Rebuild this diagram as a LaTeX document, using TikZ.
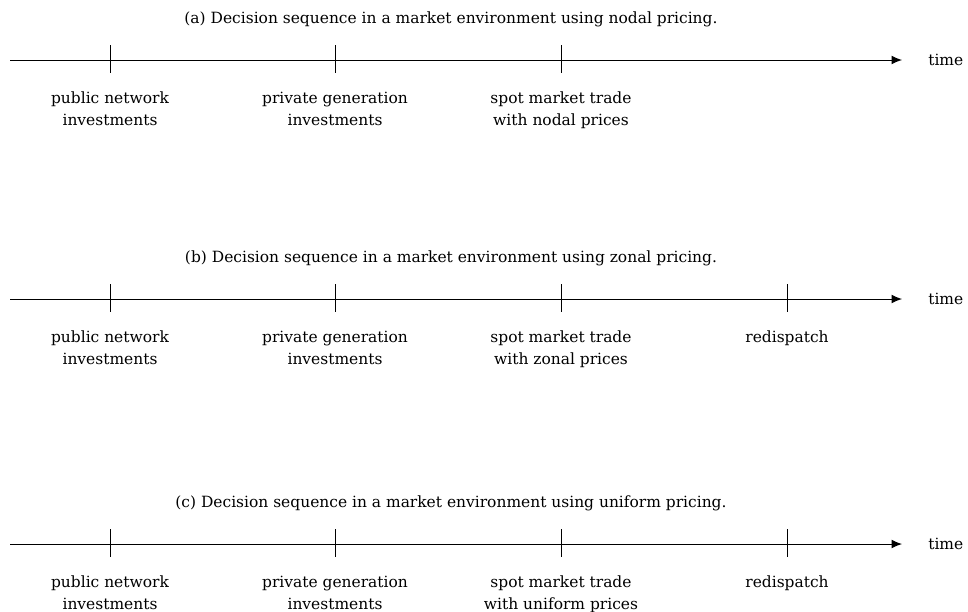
\documentclass[tikz,border=0pt]{standalone}
\usepackage{fontspec}
\setmainfont{DejaVu Serif}
\usepackage{tikz}
\usetikzlibrary{arrows.meta,positioning}
\tikzset{
  timeaxis/.style={-{Latex[length=2.6mm,width=2.2mm]}, line width=0.7pt},
  tickmark/.style={line width=0.6pt},
  caption/.style={inner sep=0pt, font=\fontsize{11}{13}\selectfont},
  eventlabel/.style={align=center, inner sep=0pt, font=\fontsize{11}{15.8}\selectfont},
  timelabel/.style={anchor=west, inner sep=0pt, font=\fontsize{11}{13}\selectfont}
}

\begin{document}
\begin{tikzpicture}[x=0.025cm, y=-0.025cm]
\useasboundingbox (0,0) rectangle (968,612);

% (a) nodal pricing
\node[caption] (capA) at (451,19) {(a) Decision sequence in a market environment using nodal pricing.};
\coordinate (startA) at (10,60);
\coordinate (endA) at (902,60);
\draw[timeaxis] (startA) -- (endA);
\node[timelabel, right=6.5mm of endA] (timeA) {time};
\coordinate (a1) at (110,60);
\coordinate (a2) at (335,60);
\coordinate (a3) at (561,60);
\draw[tickmark] ([yshift=3.7mm]a1) -- ([yshift=-3.3mm]a1);
\draw[tickmark] ([yshift=3.7mm]a2) -- ([yshift=-3.3mm]a2);
\draw[tickmark] ([yshift=3.7mm]a3) -- ([yshift=-3.3mm]a3);
\node[eventlabel, below=7.9mm of a1] (la1) {public network\\investments};
\node[eventlabel, below=7.9mm of a2] (la2) {private generation\\investments};
\node[eventlabel, below=7.9mm of a3] (la3) {spot market trade\\with nodal prices};

% (b) zonal pricing
\node[caption] (capB) at (451,258) {(b) Decision sequence in a market environment using zonal pricing.};
\coordinate (startB) at (10,299);
\coordinate (endB) at (902,299);
\draw[timeaxis] (startB) -- (endB);
\node[timelabel, right=6.5mm of endB] (timeB) {time};
\coordinate (b1) at (110,299);
\coordinate (b2) at (335,299);
\coordinate (b3) at (561,299);
\coordinate (b4) at (787,299);
\draw[tickmark] ([yshift=3.7mm]b1) -- ([yshift=-3.3mm]b1);
\draw[tickmark] ([yshift=3.7mm]b2) -- ([yshift=-3.3mm]b2);
\draw[tickmark] ([yshift=3.7mm]b3) -- ([yshift=-3.3mm]b3);
\draw[tickmark] ([yshift=3.7mm]b4) -- ([yshift=-3.3mm]b4);
\node[eventlabel, below=7.9mm of b1] (lb1) {public network\\investments};
\node[eventlabel, below=7.9mm of b2] (lb2) {private generation\\investments};
\node[eventlabel, below=7.9mm of b3] (lb3) {spot market trade\\with zonal prices};
\node[eventlabel, below=7.9mm of b4] (lb4) {redispatch};

% (c) uniform pricing
\node[caption] (capC) at (451,503) {(c) Decision sequence in a market environment using uniform pricing.};
\coordinate (startC) at (10,544);
\coordinate (endC) at (902,544);
\draw[timeaxis] (startC) -- (endC);
\node[timelabel, right=6.5mm of endC] (timeC) {time};
\coordinate (c1) at (110,544);
\coordinate (c2) at (335,544);
\coordinate (c3) at (561,544);
\coordinate (c4) at (787,544);
\draw[tickmark] ([yshift=3.7mm]c1) -- ([yshift=-3.3mm]c1);
\draw[tickmark] ([yshift=3.7mm]c2) -- ([yshift=-3.3mm]c2);
\draw[tickmark] ([yshift=3.7mm]c3) -- ([yshift=-3.3mm]c3);
\draw[tickmark] ([yshift=3.7mm]c4) -- ([yshift=-3.3mm]c4);
\node[eventlabel, below=7.9mm of c1] (lc1) {public network\\investments};
\node[eventlabel, below=7.9mm of c2] (lc2) {private generation\\investments};
\node[eventlabel, below=7.9mm of c3] (lc3) {spot market trade\\with uniform prices};
\node[eventlabel, below=7.9mm of c4] (lc4) {redispatch};
\end{tikzpicture}
\end{document}
